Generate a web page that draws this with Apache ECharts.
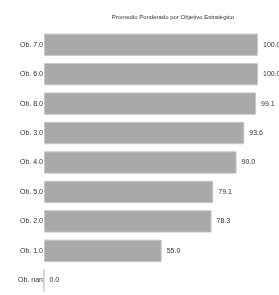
<!DOCTYPE html>
<html>
<head>
<meta charset="utf-8">
<script src="https://cdn.jsdelivr.net/npm/echarts@6/dist/echarts.min.js"></script>
<style>html,body{margin:0;padding:0;background:#fff}#c{width:279px;height:295px}</style>
</head>
<body>
<div id="c"></div>
<script>
var categories = ["Ob. 7.0", "Ob. 6.0", "Ob. 8.0", "Ob. 3.0", "Ob. 4.0", "Ob. 5.0", "Ob. 2.0", "Ob. 1.0", "Ob. nan"];
var values = [100.0, 100.0, 99.1, 93.6, 90.0, 79.1, 78.3, 55.0, 0.0];
var titleText = "Promedio Ponderado por Objetivo Estratégico";

var chart = echarts.init(document.getElementById('c'), null, {renderer: 'canvas'});
chart.setOption({
  animation: false,
  backgroundColor: '#ffffff',
  textStyle: {fontFamily: 'Liberation Sans'},
  title: {
    text: titleText,
    left: 168, top: 9,
    textAlign: 'center',
    textStyle: {fontSize: 6, fontWeight: 'normal', color: '#333', fontFamily: 'Liberation Sans'}
  },
  grid: {left: 44, right: 21, top: 30, bottom: -8, containLabel: false},
  xAxis: {
    type: 'value', min: 0, max: 100, show: false
  },
  yAxis: {
    type: 'category', data: categories, inverse: true,
    axisLine: {show: false},
    axisTick: {show: false},
    axisLabel: {fontSize: 7, color: '#333', margin: 1, fontFamily: 'Liberation Sans'}
  },
  series: [{
    type: 'bar',
    data: values,
    barCategoryGap: '24%',
    itemStyle: {color: '#a9a9a9', borderColor: '#c8c8c8', borderWidth: 1},
    label: {
      show: true, position: 'right', distance: 5,
      fontSize: 7, color: '#333', fontFamily: 'Liberation Sans',
      formatter: function (p) { return p.value.toFixed(1); }
    }
  }]
});
</script>
</body>
</html>
